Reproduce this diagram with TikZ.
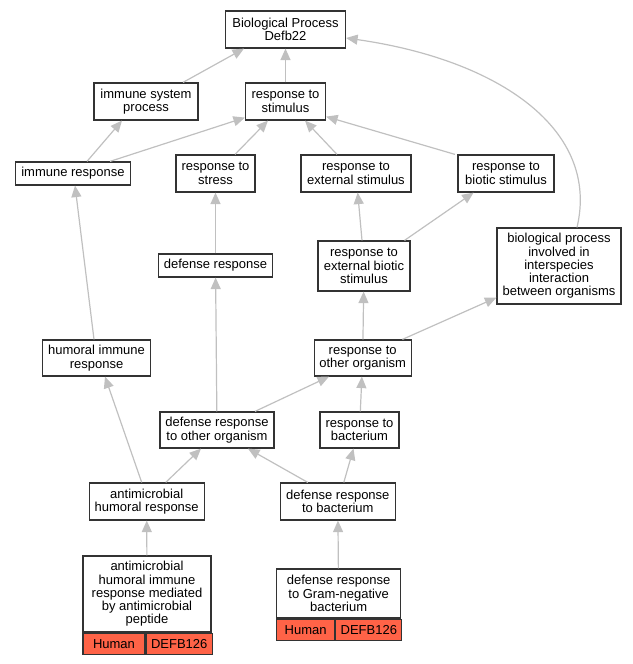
\documentclass[tikz,border=0pt]{standalone}
\usepackage{fontspec}
\setmainfont{Liberation Sans}
\usepackage{tikz}
\usetikzlibrary{arrows.meta}
\definecolor{tomato}{RGB}{255,99,71}
\definecolor{edgegray}{RGB}{192,192,192}

\begin{document}
\begin{tikzpicture}[x=1pt,y=-1pt]
\tikzstyle{every node} = [font=\fontsize{13}{13.3}\selectfont]
\tikzstyle{term} = [draw=black!80, line width=1.2pt, fill=white, align=center, inner sep=0pt]
\tikzstyle{cell} = [term, fill=tomato, anchor=north west, minimum height=21pt]
\tikzstyle{isa} = [draw=edgegray, line width=1.2pt, -{Triangle[length=11.5pt,width=10pt]}]

\useasboundingbox (0,0) rectangle (632,664);

% terms
\node[term,minimum width=120pt,minimum height=37pt] (bp) at (285.5,29.5) {Biological Process\\Defb22};
\node[term,minimum width=104pt,minimum height=37pt] (isp) at (146,101.5) {immune system\\process};
\node[term,minimum width=80pt,minimum height=37pt] (rstim) at (285.5,101.5) {response to\\stimulus};
\node[term,minimum width=115pt,minimum height=23pt] (imr) at (73,173.5) {immune response};
\node[term,minimum width=79pt,minimum height=37pt] (rstress) at (215.5,173.5) {response to\\stress};
\node[term,minimum width=110pt,minimum height=37pt] (rext) at (356,173.5) {response to\\external stimulus};
\node[term,minimum width=96pt,minimum height=37pt] (rbiotic) at (506,173.5) {response to\\biotic stimulus};
\node[term,minimum width=114pt,minimum height=23pt] (defr) at (215.5,265.5) {defense response};
\node[term,minimum width=92pt,minimum height=50pt] (rextb) at (364,266) {response to\\external biotic\\stimulus};
\node[term,minimum width=124pt,minimum height=76pt] (bpinter) at (559,266) {biological process\\involved in\\interspecies\\interaction\\between organisms};
\node[term,minimum width=108pt,minimum height=36pt] (humr) at (96.5,358) {humoral immune\\response};
\node[term,minimum width=97pt,minimum height=36pt] (rother) at (362.7,358) {response to\\other organism};
\node[term,minimum width=114pt,minimum height=36pt] (dother) at (217,430) {defense response\\to other organism};
\node[term,minimum width=79pt,minimum height=36pt] (rbact) at (359.5,430) {response to\\bacterium};
\node[term,minimum width=115pt,minimum height=37pt] (amhr) at (146.7,501.5) {antimicrobial\\humoral response};
\node[term,minimum width=115pt,minimum height=37pt] (dbact) at (337.8,501.5) {defense response\\to bacterium};
\node[term,minimum width=128pt,minimum height=76pt] (amp) at (147,594) {antimicrobial\\humoral immune\\response mediated\\by antimicrobial\\peptide};
\node[term,minimum width=124pt,minimum height=49pt] (gneg) at (338.6,593.5) {defense response\\to Gram-negative\\bacterium};

% annotation cells
\node[cell,minimum width=62pt] (amphuman) at (amp.south west) {Human};
\node[cell,minimum width=66pt] (ampgene) at (amphuman.north east) {DEFB126};
\node[cell,minimum width=58pt] (gneghuman) at (gneg.south west) {Human};
\node[cell,minimum width=66pt] (gneggene) at (gneghuman.north east) {DEFB126};

% is_a edges
\draw[isa] ([xshift=37pt]isp.north) -- ([xshift=-41.5pt]bp.south);
\draw[isa] (rstim) -- (bp);
\draw[isa] ([xshift=18pt]bpinter.north) .. controls (600,130) and (500,60) .. ([yshift=-8.5pt]bp.east);
\draw[isa] ([xshift=14pt]imr.north) -- ([xshift=-24pt]isp.south);
\draw[isa] ([xshift=37pt]imr.north) -- ([yshift=3pt]rstim.south west);
\draw[isa] ([xshift=19.5pt]rstress.north) -- ([xshift=-17.5pt]rstim.south);
\draw[isa] ([xshift=-19pt]rext.north) -- ([xshift=19.5pt]rstim.south);
\draw[isa] ([xshift=-51pt]rbiotic.north) -- ([yshift=4pt]rstim.south east);
\draw[isa] ([xshift=-2.5pt]humr.north) -- ([xshift=2pt]imr.south);
\draw[isa] (defr) -- (rstress);
\draw[isa] ([xshift=-2pt]rextb.north) -- ([xshift=1.7pt]rext.south);
\draw[isa] ([xshift=40.5pt]rextb.north) -- ([xshift=-32.4pt]rbiotic.south);
\draw[isa] (rother) -- (rextb);
\draw[isa] ([xshift=39.7pt]rother.north) -- ([yshift=7pt]bpinter.south west);
\draw[isa] (dother) -- (defr);
\draw[isa] ([xshift=38pt]dother.north) -- ([xshift=-33.7pt]rother.south);
\draw[isa] (rbact) -- (rother);
\draw[isa] ([xshift=-5pt]amhr.north) -- ([xshift=8.5pt]humr.south);
\draw[isa] ([xshift=19pt]amhr.north) -- ([xshift=-16pt]dother.south);
\draw[isa] ([xshift=-30pt]dbact.north) -- ([xshift=31pt]dother.south);
\draw[isa] ([xshift=6pt]dbact.north) -- ([xshift=-6pt]rbact.south);
\draw[isa] (amp) -- (amhr);
\draw[isa] (gneg) -- (dbact);

\end{tikzpicture}
\end{document}
